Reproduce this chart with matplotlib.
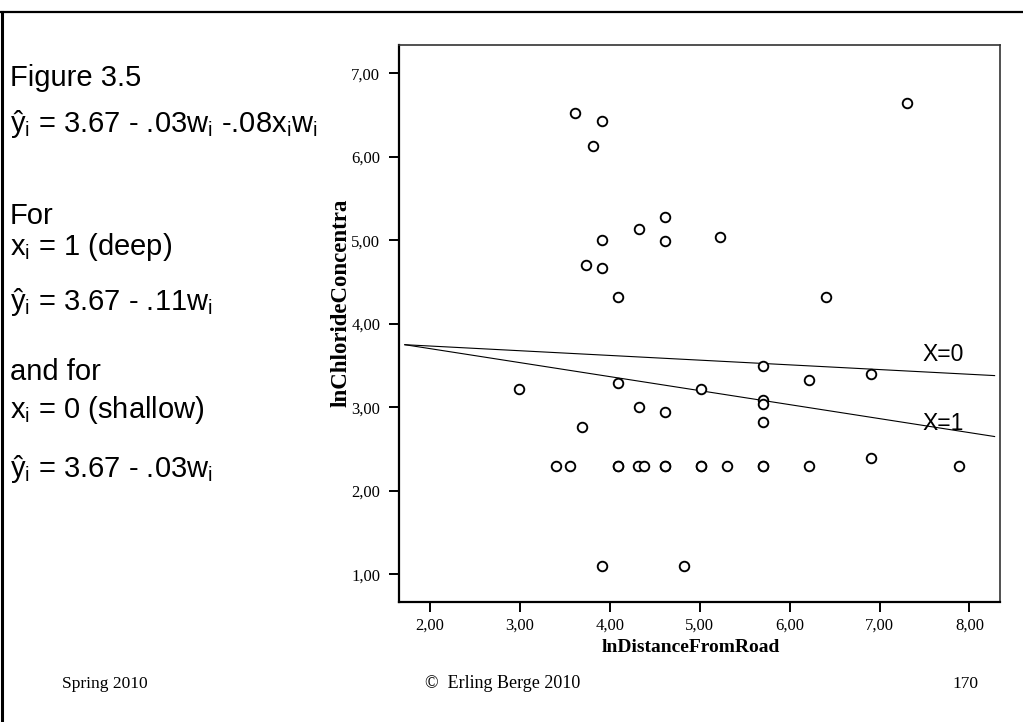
import matplotlib
matplotlib.use("Agg")
import matplotlib.pyplot as plt
from matplotlib.lines import Line2D
from matplotlib.transforms import Bbox

plt.rcParams['font.family'] = ['Liberation Sans', 'DejaVu Sans']
plt.rcParams['mathtext.fontset'] = 'custom'
plt.rcParams['mathtext.rm'] = 'Liberation Sans'
plt.rcParams['mathtext.it'] = 'Liberation Sans:italic'

# data (ln distance, ln chloride)
dist = [3.61, 3.91, 3.81, 7.31,
        4.61, 4.32, 3.91, 4.61, 5.23,
        3.74, 3.91, 4.09, 6.40,
        5.70, 6.22, 6.91,
        2.99, 4.09, 5.01, 5.70, 5.70,
        4.32, 4.61, 5.70, 3.69,
        3.40, 3.56, 4.09, 4.09, 4.31, 4.38, 4.61, 4.61, 5.01, 5.01,
        5.30, 5.70, 5.70, 6.22, 7.88,
        6.91,
        3.91, 4.83]
chloride = [6.53, 6.43, 6.13, 6.64,
            5.28, 5.14, 5.01, 4.99, 5.04,
            4.70, 4.67, 4.32, 4.32,
            3.50, 3.33, 3.40,
            3.22, 3.29, 3.22, 3.09, 3.04,
            3.00, 2.94, 2.83, 2.77,
            2.30, 2.30, 2.30, 2.30, 2.30, 2.30, 2.30, 2.30, 2.30, 2.30,
            2.30, 2.30, 2.30, 2.30, 2.30,
            2.39,
            1.10, 1.10]

# fitted lines for x=0 (shallow) and x=1 (deep)
fit_x = [1.72, 8.28]
fit_x0 = [3.75, 3.38]
fit_x1 = [3.75, 2.65]

xticks = [2, 3, 4, 5, 6, 7, 8]
xtick_labels = ['2,00', '3,00', '4,00', '5,00', '6,00', '7,00', '8,00']
yticks = [1, 2, 3, 4, 5, 6, 7]
ytick_labels = ['1,00', '2,00', '3,00', '4,00', '5,00', '6,00', '7,00']

W, H = 1023, 722
fig = plt.figure(figsize=(W / 100, H / 100), dpi=100)

def fx(px):
    return px / W

def fy(py):
    return 1 - py / H

ax = fig.add_axes([fx(399), fy(602), fx(1000) - fx(399), fy(45) - fy(602)])
ax.plot(dist, chloride, 'o', ms=6.9, mfc='white', mec='black', mew=1.35, zorder=3)
ax.plot(fit_x, fit_x0, color='black', lw=0.8)
ax.plot(fit_x, fit_x1, color='black', lw=0.8)
ax.text(7.48, 3.55, 'X=0', fontsize=16.5, ha='left', va='baseline')
ax.text(7.48, 2.73, 'X=1', fontsize=16.5, ha='left', va='baseline')

ax.set_xlim(1.655, 8.34)
ax.set_ylim(0.668, 7.34)
ax.set_xticks(xticks, xtick_labels, fontfamily='Liberation Serif', fontsize=12)
ax.set_yticks(yticks, ytick_labels, fontfamily='Liberation Serif', fontsize=12)
ax.tick_params(length=7.5, width=1.4, color='black')
ax.tick_params(axis='x', pad=4)
ax.tick_params(axis='y', pad=6)
for s in ['left', 'bottom']:
    ax.spines[s].set_linewidth(1.6)
for s in ['top', 'right']:
    ax.spines[s].set_linewidth(1.2)
    ax.spines[s].set_color('#333333')

fig.text(fx(341), fy(303), 'lnChlorideConcentra', rotation=90, ha='center', va='center',
         fontfamily='Liberation Serif', fontweight='bold', fontsize=16.5)
fig.text(fx(691), fy(648), 'lnDistanceFromRoad', ha='center', va='center',
         fontfamily='Liberation Serif', fontweight='bold', fontsize=14)

# slide text on the left
sub = r'$_\mathrm{i}$'
left_lines = [
    ('Figure 3.5', 86),
    ('ŷ' + sub + ' = 3.67 - .03w' + sub + ' -.08x' + sub + 'w' + sub, 132),
    ('For', 224),
    ('x' + sub + ' = 1 (deep)', 255),
    ('ŷ' + sub + ' = 3.67 - .11w' + sub, 310),
    ('and for', 380),
    ('x' + sub + ' = 0 (shallow)', 418),
    ('ŷ' + sub + ' = 3.67 - .03w' + sub, 477),
]
for txt, base in left_lines:
    t = fig.text(fx(10), fy(base), txt, fontsize=21, ha='left', va='baseline')
    t.set_clip_box(Bbox.from_extents(0, 0, 318, H))
    t.set_clip_on(True)

# footer
fig.text(fx(62), fy(688), 'Spring 2010', fontfamily='Liberation Serif', fontsize=12.5,
         ha='left', va='baseline')
fig.text(fx(425), fy(688), '©  Erling Berge 2010', fontfamily='Liberation Serif', fontsize=13,
         ha='left', va='baseline')
fig.text(fx(978), fy(688), '170', fontfamily='Liberation Serif', fontsize=12.5,
         ha='right', va='baseline')

# slide frame
fig.add_artist(Line2D([0, 1], [fy(11.5), fy(11.5)], color='black', lw=1.6))
fig.add_artist(Line2D([fx(1.5), fx(1.5)], [0, fy(11.5)], color='black', lw=2.2))

fig.savefig('out.png', dpi=100)
